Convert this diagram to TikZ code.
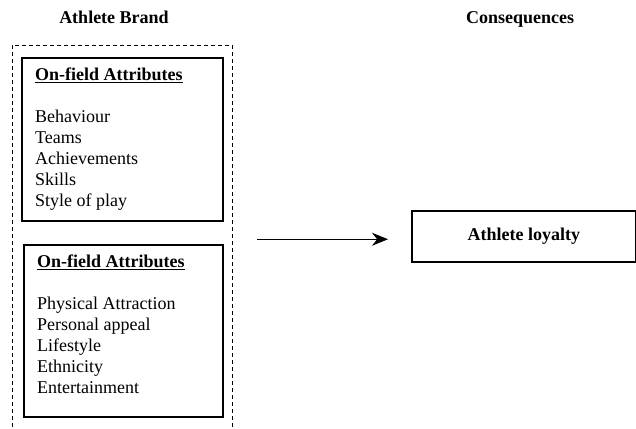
\documentclass[tikz,border=0pt]{standalone}
\usepackage{fontspec}
\setmainfont{Liberation Serif}
\usetikzlibrary{arrows.meta,positioning}

\begin{document}
\begin{tikzpicture}[x=1pt,y=-1pt,
      attrbox/.style={rectangle, draw=black, line width=1.5pt, inner sep=0pt, anchor=north west},
      liste/.style={align=left, inner sep=0pt, font=\fontsize{18}{21}\selectfont},
      titel/.style={anchor=base, font=\fontsize{18}{21}\selectfont\bfseries},
      pfeil/.style={-{Stealth[length=16pt,width=13pt]}, line width=0.8pt}]

\clip (0,0) rectangle (636,428);
\node[titel] (h1) at (114,24) {Athlete Brand};
\node[titel] (h2) at (520,24) {Consequences};
\node[rectangle, draw=black, dash pattern=on 4pt off 3pt, inner sep=0pt, minimum width=220pt, minimum height=400pt, anchor=north west] (brand) at (12,45) {};
\node[attrbox, minimum width=201pt, minimum height=163pt] (b1) at (21,57) {};
\node[attrbox, minimum width=199pt, minimum height=172pt] (b2) at (23,244) {};
\node[liste, below right=11pt and 14pt of b1.north west] (t1) {\underline{\textbf{On-field Attributes}}\\[21pt]
  Behaviour\\ Teams\\ Achievements\\ Skills\\ Style of play};
\node[liste, below right=11pt and 14pt of b2.north west] (t2) {\underline{\textbf{On-field Attributes}}\\[21pt]
  Physical Attraction\\ Personal appeal\\ Lifestyle\\ Ethnicity\\ Entertainment};
\node[attrbox, minimum width=224pt, minimum height=51pt, font=\fontsize{18}{21}\selectfont\bfseries] (l1) at (411,210) {Athlete loyalty};
\draw[pfeil, shorten <=25pt, shorten >=23pt] ([yshift=-3pt]brand.east |- l1.west) -- ([yshift=-3pt]l1.west);

\end{tikzpicture}
\end{document}
